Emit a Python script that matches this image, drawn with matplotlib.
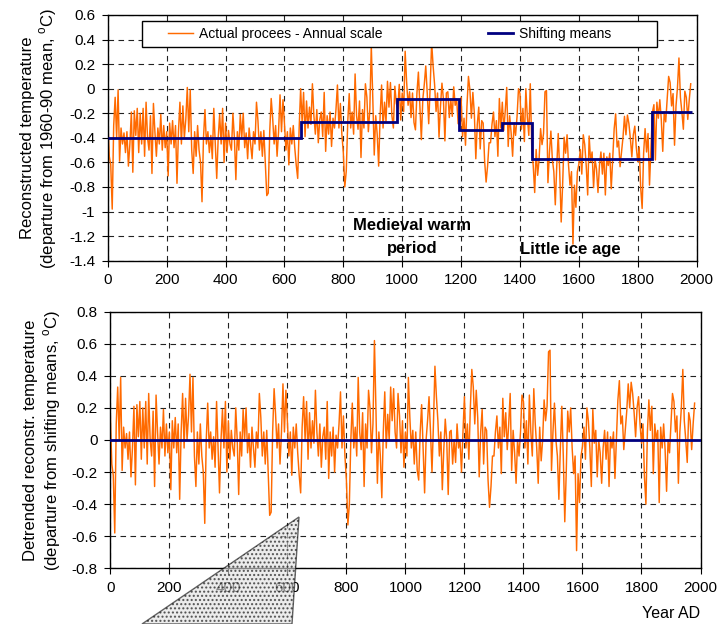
import numpy as np
import matplotlib.pyplot as plt
from matplotlib.patches import Polygon, Rectangle

# detrended annual anomalies, every 5 years (0..1980)
c0 = [0.15, -0.15, -0.22, -0.58, 0.10, 0.33, 0.00, 0.39, -0.19, 0.08, -0.05, 0.04, -0.12, 0.05, -0.23, -0.05, 0.21, -0.28, 0.22, 0.02]
c1 = [0.24, -0.12, 0.20, -0.05, 0.24, -0.15, 0.29, 0.00, -0.10, 0.18, -0.29, 0.28, 0.05, -0.15, 0.08, -0.05, 0.19, -0.10, 0.10, -0.08]
c2 = [0.05, -0.31, 0.12, -0.05, 0.14, -0.08, 0.10, -0.37, 0.05, 0.29, -0.05, 0.26, 0.00, 0.15, 0.41, 0.05, 0.39, -0.10, -0.29, 0.05]
c3 = [-0.15, 0.10, -0.10, -0.20, -0.52, 0.00, 0.23, -0.05, 0.05, -0.12, 0.02, -0.17, 0.24, -0.05, -0.33, 0.00, 0.19, -0.05, 0.24, -0.20]
c4 = [0.12, -0.12, 0.06, -0.05, -0.10, 0.20, 0.00, -0.34, 0.05, -0.10, 0.19, 0.00, 0.20, -0.08, 0.04, -0.17, 0.08, -0.05, -0.17, 0.05]
c5 = [-0.05, 0.29, 0.14, -0.10, 0.05, -0.15, 0.06, -0.20, -0.47, -0.45, 0.05, 0.32, 0.16, -0.05, 0.10, -0.15, 0.05, 0.35, 0.05, 0.31]
c6 = [0.12, -0.10, 0.05, -0.22, 0.08, -0.05, 0.10, -0.08, -0.22, -0.33, 0.08, 0.27, 0.00, 0.24, -0.12, 0.17, -0.05, 0.12, -0.02, 0.31]
c7 = [0.05, -0.10, 0.10, -0.17, 0.02, 0.08, -0.12, 0.24, -0.24, 0.05, -0.10, 0.08, -0.20, 0.03, -0.05, 0.10, 0.30, -0.05, 0.15, -0.10]
c8 = [-0.25, -0.53, -0.40, 0.00, 0.23, -0.05, 0.08, -0.10, 0.39, 0.05, -0.06, 0.17, -0.29, 0.10, -0.05, 0.31, 0.20, -0.08, 0.10, 0.62]
c9 = [0.20, -0.27, 0.05, -0.10, -0.36, 0.05, 0.30, -0.05, 0.16, 0.00, 0.33, 0.12, 0.32, 0.05, -0.05, 0.29, 0.15, -0.08, 0.12, -0.17]
c10 = [0.05, -0.10, 0.39, 0.14, -0.05, 0.06, -0.15, 0.05, -0.19, -0.25, 0.05, 0.22, -0.05, -0.33, 0.00, 0.12, 0.27, 0.05, -0.20, 0.10]
c11 = [0.46, 0.27, 0.12, -0.10, 0.05, -0.31, -0.06, 0.13, 0.00, -0.34, 0.05, 0.06, -0.15, 0.00, -0.14, 0.10, -0.05, 0.00, -0.20, 0.05]
c12 = [0.27, -0.05, 0.10, -0.12, 0.20, 0.44, 0.33, 0.10, 0.31, 0.14, -0.23, 0.05, 0.19, -0.15, 0.08, 0.06, -0.25, -0.42, -0.29, -0.10]
c13 = [-0.10, 0.05, 0.15, -0.05, 0.08, -0.21, 0.26, 0.02, 0.17, -0.06, 0.10, 0.29, -0.19, 0.06, -0.08, -0.27, 0.00, -0.10, 0.05, 0.28]
c14 = [0.24, -0.05, 0.12, -0.15, 0.28, 0.05, -0.10, 0.32, 0.10, -0.05, -0.27, 0.08, -0.13, 0.00, 0.25, 0.12, 0.21, 0.55, 0.56, -0.19]
c15 = [0.05, 0.23, 0.00, -0.10, -0.37, -0.05, 0.21, -0.10, -0.51, -0.20, 0.18, 0.05, 0.20, -0.05, -0.21, -0.10, -0.69, -0.21, -0.39, -0.10]
c16 = [-0.04, 0.08, -0.12, 0.20, 0.12, -0.05, -0.29, 0.19, -0.02, 0.06, -0.23, 0.00, -0.08, -0.27, -0.05, 0.06, -0.12, 0.05, -0.29, 0.02]
c17 = [-0.05, 0.05, -0.24, 0.00, 0.25, 0.37, 0.10, 0.15, -0.06, 0.06, 0.18, 0.35, 0.20, 0.36, 0.29, 0.17, 0.02, 0.20, 0.27, 0.10]
c18 = [-0.02, 0.10, -0.23, -0.40, 0.05, 0.25, 0.06, 0.21, -0.21, 0.10, 0.00, 0.06, -0.39, 0.08, -0.05, 0.10, -0.06, -0.32, 0.00, -0.08]
c19 = [0.10, 0.29, 0.24, 0.05, 0.15, -0.27, 0.05, 0.20, 0.44, 0.12, 0.00, -0.14, 0.17, 0.12, -0.06, 0.10, 0.23]
detrended = np.array(c0 + c1 + c2 + c3 + c4 + c5 + c6 + c7 + c8 + c9 +
                     c10 + c11 + c12 + c13 + c14 + c15 + c16 + c17 + c18 + c19)
years = np.arange(0, 1985, 5)

# shifting means (step function)
breaks = [0, 655, 982, 1193, 1340, 1440, 1847, 1985]
means = [-0.40, -0.27, -0.085, -0.34, -0.28, -0.575, -0.19]

idx = np.searchsorted(breaks, years, side='right') - 1
actual = detrended + np.array(means)[idx]

plt.rcParams['font.family'] = ['Liberation Sans', 'DejaVu Sans']
plt.rcParams['mathtext.fontset'] = 'custom'
plt.rcParams['mathtext.rm'] = 'Liberation Sans'

orange = '#ff6a00'
navy = '#000080'

fig = plt.figure(figsize=(7.23, 6.24), dpi=100)
ax1 = fig.add_axes([0.1491, 0.5822, 0.8144, 0.3938])
ax2 = fig.add_axes([0.1526, 0.0893, 0.8163, 0.4112])

def style(ax, ylim, yticks):
    ax.set_xlim(0, 2000)
    ax.set_ylim(*ylim)
    ax.set_xticks(range(0, 2001, 200))
    ax.set_yticks(yticks)
    ax.set_yticklabels(['%g' % (t + 0.0) if abs(t) > 1e-9 else '0' for t in yticks])
    ax.grid(True, color='#222222', linestyle=(0, (5, 4)), linewidth=0.8)
    ax.tick_params(direction='out', length=4, labelsize=11, pad=5, color='black')
    for s in ax.spines.values():
        s.set_linewidth(1.0)
        s.set_color('black')
    ax.set_axisbelow(True)

ax1.plot(years, actual, color=orange, lw=1.05, label='Actual procees - Annual scale')
ax1.stairs(means, breaks, baseline=None, color=navy, lw=2, zorder=3, label='Shifting means')
style(ax1, (-1.4, 0.6), np.round(np.arange(-1.4, 0.61, 0.2), 1))
ax1.set_ylabel('Reconstructed temperature\n(departure from 1960-90 mean, $^{\\rm o}$C)',
               fontsize=12, labelpad=7)

# legend box (frame drawn separately to get the wide Excel-style padding)
ax1.add_patch(Rectangle((0.058, 0.87), 0.875, 0.1056, transform=ax1.transAxes,
                        facecolor='white', edgecolor='black', lw=1.0, zorder=4.9))
leg = ax1.legend(loc='center', bbox_to_anchor=(0.479, 0.923), ncol=2, frameon=False,
                 fontsize=10, columnspacing=7.6, handlelength=1.8, handletextpad=0.45,
                 borderpad=0.2)
leg.set_zorder(5)

ax1.text(1033, -1.11, 'Medieval warm', fontsize=12, fontweight='bold', ha='center', va='center')
ax1.text(1033, -1.30, 'period', fontsize=12, fontweight='bold', ha='center', va='center')
ax1.text(1570, -1.31, 'Little ice age', fontsize=12, fontweight='bold', ha='center', va='center')

ax2.plot(years, detrended, color=orange, lw=1.05)
ax2.axhline(0, color=navy, lw=2, zorder=3)
style(ax2, (-0.8, 0.8), np.round(np.arange(-0.8, 0.81, 0.2), 1))
ax2.set_ylabel('Detrended reconstr. temperature\n(departure from shifting means, $^{\\rm o}$C)',
               fontsize=12, labelpad=6)
ax2.set_xlabel('Year AD', fontsize=11.5, loc='right', labelpad=8)

# hatched callout triangle drawn over the lower axis
tri = [(142, 624), (299, 517), (292, 624)]
tri = [(x / 723, 1 - y / 624) for x, y in tri]
fig.patches.append(Polygon(tri, closed=True, transform=fig.transFigure,
                           facecolor='#e0e0e0', edgecolor='black', lw=1.0,
                           hatch='....', alpha=0.6, zorder=5))

fig.savefig('out.png', dpi=100)
